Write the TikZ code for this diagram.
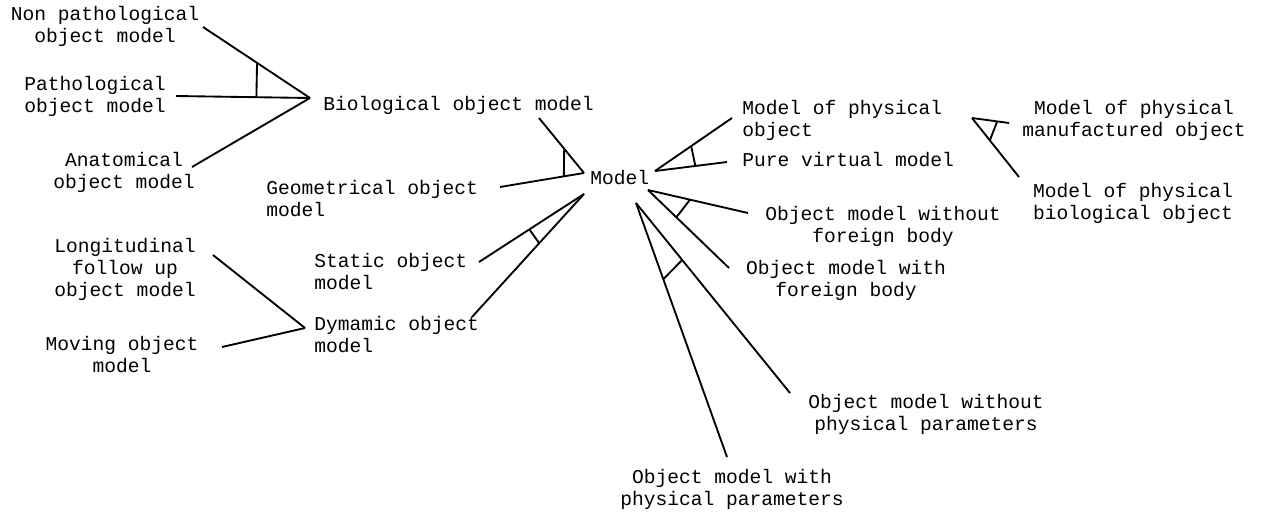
\documentclass[tikz,border=0pt]{standalone}
\usepackage{fontspec}
\setmonofont{Liberation Mono}
\usetikzlibrary{calc}

\tikzset{
  lbl/.style={font=\ttfamily\fontsize{14.7}{16.5}\selectfont, inner sep=0pt, align=center},
  lbll/.style={lbl, align=left, anchor=west},
  br/.style={line width=1.4pt},
}

\begin{document}
\begin{tikzpicture}[x=0.75pt,y=-0.75pt]
\useasboundingbox (0,0) rectangle (1262,514);

% labels
\node[lbl] (nonpath) at (105,26) {Non pathological\\object model};
\node[lbl] (path) at (95,96) {Pathological\\object model};
\node[lbl] (anat) at (124,172) {Anatomical\\object model};
\node[lbl, anchor=west] (bio) at (323,105) {Biological object model};
\node[lbll] (geo) at (266,199) {Geometrical object\\model};
\node[lbl, anchor=west] (model) at (590,178) {Model};
\node[lbl] (longi) at (125,269) {Longitudinal\\follow up\\object model};
\node[lbl] (moving) at (122,355) {Moving object\\model};
\node[lbll] (static) at (314,271.5) {Static object\\model};
\node[lbll] (dyn) at (314,334.5) {Dymamic object\\model};
\node[lbll] (phys) at (742,120) {Model of physical\\object};
\node[lbll] (virt) at (742,160) {Pure virtual model};
\node[lbl] (manuf) at (1134,120) {Model of physical\\manufactured object};
\node[lbl] (bioobj) at (1133,203) {Model of physical\\biological object};
\node[lbl] (nofb) at (883,226) {Object model without\\foreign body};
\node[lbl] (fb) at (846,280) {Object model with\\foreign body};
\node[lbl] (nopar) at (926,414) {Object model without\\physical parameters};
\node[lbl] (par) at (732,489) {Object model with\\physical parameters};

% branch points
\coordinate (bio-v) at (310,98);
\coordinate (nonpath-e) at (203,27);
\coordinate (path-e) at (176,96);
\coordinate (anat-e) at (192,167);

\coordinate (mod-a) at (584,173);
\coordinate (bio-e) at (539,118);
\coordinate (geo-e) at (500,187);

\coordinate (mod-b) at (584,194);
\coordinate (static-e) at (479,262);
\coordinate (dyn-e) at (472,317);

\coordinate (dyn-v) at (305,328);
\coordinate (longi-e) at (213,255);
\coordinate (moving-e) at (222,347);

\coordinate (mod-c) at (655,171);
\coordinate (phys-e) at (732,118);
\coordinate (virt-e) at (727,162);

\coordinate (manuf-v) at (972,118);
\coordinate (manuf-e) at (1009,123);
\coordinate (bioobj-e) at (1019,177);

\coordinate (mod-d) at (648,190);
\coordinate (nofb-e) at (748,213);
\coordinate (fb-e) at (729,268);

\coordinate (mod-e) at (636,203);
\coordinate (nopar-e) at (790,393);
\coordinate (par-e) at (727,457);

% biological object model
\draw[br] (nonpath-e) -- (bio-v);
\draw[br] (path-e) -- (bio-v);
\draw[br] (anat-e) -- (bio-v);
\draw[br] ($(bio-v)!0.495!(nonpath-e)$) -- ($(bio-v)!0.40!(path-e)$);

% model
\draw[br] (bio-e) -- (mod-a);
\draw[br] (geo-e) -- (mod-a);
\draw[br] ($(mod-a)!0.44!(bio-e)$) -- ($(mod-a)!0.24!(geo-e)$);

\draw[br] (static-e) -- (mod-b);
\draw[br] (dyn-e) -- (mod-b);
\draw[br] ($(mod-b)!0.52!(static-e)$) -- ($(mod-b)!0.40!(dyn-e)$);

% dynamic object model
\draw[br] (longi-e) -- (dyn-v);
\draw[br] (moving-e) -- (dyn-v);

% physical / virtual
\draw[br] (mod-c) -- (phys-e);
\draw[br] (mod-c) -- (virt-e);
\draw[br] ($(mod-c)!0.47!(phys-e)$) -- ($(mod-c)!0.56!(virt-e)$);

\draw[br] (manuf-v) -- (manuf-e);
\draw[br] (manuf-v) -- (bioobj-e);
\draw[br] ($(manuf-v)!0.68!(manuf-e)$) -- ($(manuf-v)!0.38!(bioobj-e)$);

% foreign body
\draw[br] (mod-d) -- (nofb-e);
\draw[br] (mod-d) -- (fb-e);
\draw[br] ($(mod-d)!0.42!(nofb-e)$) -- ($(mod-d)!0.35!(fb-e)$);

% physical parameters
\draw[br] (mod-e) -- (nopar-e);
\draw[br] (mod-e) -- (par-e);
\draw[br] ($(mod-e)!0.30!(nopar-e)$) -- ($(mod-e)!0.30!(par-e)$);
\end{tikzpicture}
\end{document}
